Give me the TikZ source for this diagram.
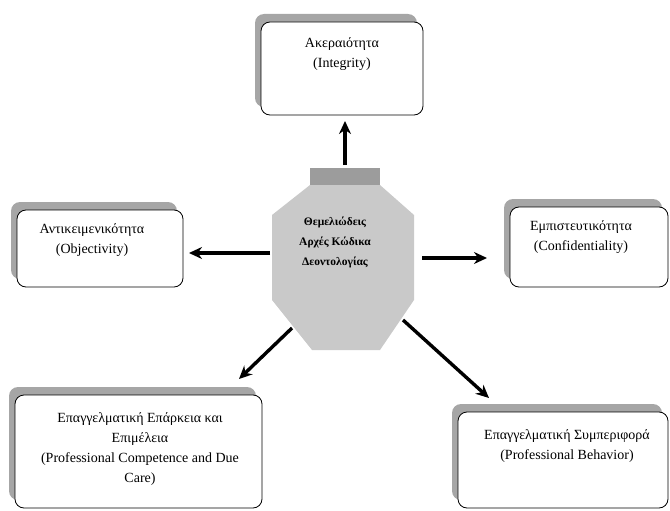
\documentclass[tikz,border=0pt]{standalone}
\usepackage{fontspec}
\setmainfont{Liberation Serif}
\usetikzlibrary{shadows,arrows.meta}
\definecolor{shadowgrey}{HTML}{A6A6A6}
\definecolor{octfill}{HTML}{C9C9C9}
\definecolor{octtop}{HTML}{9C9C9C}
\begin{document}
\begin{tikzpicture}[x=1pt,y=-1pt,
  box/.style={draw=black, line width=0.8pt, fill=white, rounded corners=9pt,
    general shadow={shadow xshift=-6pt, shadow yshift=8pt, fill=shadowgrey, rounded corners=9pt},
    inner sep=0pt},
  txt/.style={align=center, font=\fontsize{14}{20}\selectfont, inner sep=0pt},
  core/.style={align=center, font=\fontsize{11.5}{20}\selectfont\bfseries, inner sep=0pt},
  arr/.style={line width=3.4pt, -{Stealth[length=13pt,width=12pt]}}]
\useasboundingbox (0,0) rectangle (670,511);
% boxes
\node[box, minimum width=162pt, minimum height=93pt] (integ) at (342,68.5) {};
\node[txt] (integ-t) at (342,54) {Ακεραιότητα\\(Integrity)};
\node[box, minimum width=166pt, minimum height=77pt] (obj) at (100,248.5) {};
\node[txt] (obj-t) at (92,240) {Αντικειμενικότητα\\(Objectivity)};
\node[box, minimum width=158pt, minimum height=80pt] (conf) at (589,247) {};
\node[txt] (conf-t) at (581,237.5) {Εμπιστευτικότητα\\(Confidentiality)};
\node[box, minimum width=247pt, minimum height=113pt] (comp) at (138.5,451.5) {};
\node[txt] (comp-t) at (140,449) {Επαγγελματική Επάρκεια και\\Επιμέλεια\\(Professional Competence and Due\\Care)};
\node[box, minimum width=210pt, minimum height=96pt] (behav) at (563,460) {};
\node[txt] (behav-t) at (567,446.5) {Επαγγελματική Συμπεριφορά\\(Professional Behavior)};
% octagon
\coordinate (o1) at (310,185);
\coordinate (o2) at (380,185);
\coordinate (o3) at (414,215);
\coordinate (o4) at (414,300);
\coordinate (o5) at (380,350);
\coordinate (o6) at (312,350);
\coordinate (o7) at (272,300);
\coordinate (o8) at (272,215);
\fill[octfill] (o1) -- (o2) -- (o3) -- (o4) -- (o5) -- (o6) -- (o7) -- (o8) -- cycle;
\fill[octtop] (310,168) rectangle (380,185);
\node[core] (core) at (335,242) {Θεμελιώδεις\\Αρχές Κώδικα\\Δεοντολογίας};
% connectors
\coordinate (s1) at (345,165);
\coordinate (e1) at (345,121);
\coordinate (s2) at (270,253);
\coordinate (e2) at (189,253);
\coordinate (s3) at (422,258);
\coordinate (e3) at (487,258);
\coordinate (s4) at (292,328);
\coordinate (e4) at (239,379);
\coordinate (s5) at (403,320);
\coordinate (e5) at (489,398);
\draw[arr] (s1) -- (e1);
\draw[arr] (s2) -- (e2);
\draw[arr] (s3) -- (e3);
\draw[arr] (s4) -- (e4);
\draw[arr] (s5) -- (e5);
\end{tikzpicture}
\end{document}
